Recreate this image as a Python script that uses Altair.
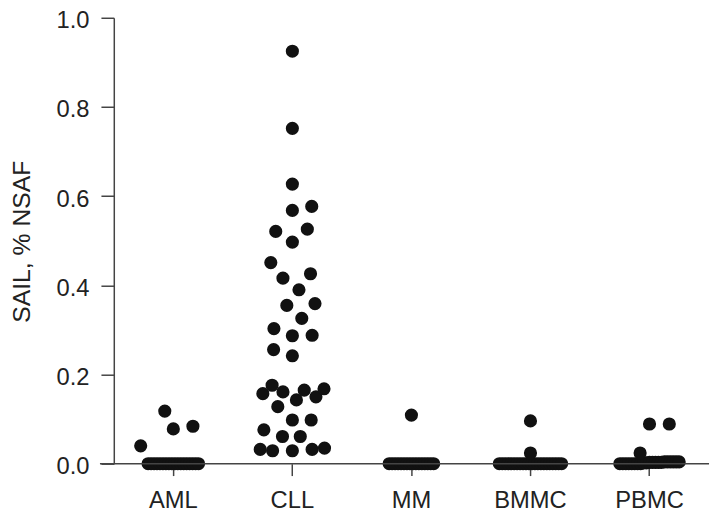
import math
import numpy as np
import pandas as pd
import altair as alt

# ---------------- data ----------------
groups = ["AML", "CLL", "MM", "BMMC", "PBMC"]

aml = [0.0] * 18 + [0.040, 0.078, 0.084, 0.118]
cll = [0.029, 0.029, 0.032, 0.032, 0.035, 0.061, 0.061, 0.076, 0.098, 0.098,
       0.128, 0.143, 0.150, 0.157, 0.161, 0.165, 0.168, 0.176, 0.242, 0.256,
       0.287, 0.288, 0.303, 0.326, 0.355, 0.359, 0.390, 0.416, 0.426, 0.451,
       0.497, 0.521, 0.526, 0.568, 0.577, 0.627, 0.752, 0.925]
mm = [0.0] * 16 + [0.109]
bmmc = [0.0] * 22 + [0.024, 0.096]
pbmc = [0.0] * 8 + [0.002, 0.002, 0.003, 0.003, 0.003, 0.003, 0.003, 0.004,
                    0.004, 0.004, 0.004, 0.004, 0.004] + [0.024, 0.089, 0.089]

values_by_group = [aml, cll, mm, bmmc, pbmc]

# ---------------- layout constants ----------------
W, H = 602, 451          # plot area in px
BW = W / len(groups)     # band width
GAP = 20.0               # preferred centre distance in the swarm (px)
CAP = 33.0               # max half-width of a column (px)
TIE_TOL = 0.006          # values this close form a dense row
TIE_MIN = 6
TIE_STEP = 3.0           # overlap step inside a dense row (px)


def swarm(vals):
    """Column-scatter layout: dense rows are overlapped, the rest is a greedy beeswarm."""
    n = len(vals)
    order = sorted(range(n), key=lambda i: vals[i])
    xs = [0.0] * n
    placed, used = [], set()
    i = 0
    while i < n:
        j = i
        while j + 1 < n and vals[order[j + 1]] - vals[order[i]] <= TIE_TOL:
            j += 1
        k = j - i + 1
        if k >= TIE_MIN:
            for r, idx in enumerate(order[i:j + 1]):
                x = (r - (k - 1) / 2) * TIE_STEP
                xs[idx] = x
                placed.append((x, vals[idx] * H))
                used.add(idx)
        i = j + 1
    flip = 1
    for idx in order:
        if idx in used:
            continue
        y = vals[idx] * H
        near = [(px, py) for px, py in placed if abs(py - y) < GAP]

        def ok(c):
            return all((c - px) ** 2 + (py - y) ** 2 >= GAP ** 2 - 1e-6 for px, py in near)

        cands = [0.0]
        for px, py in near:
            dx = math.sqrt(GAP ** 2 - (py - y) ** 2)
            cands += [px + dx, px - dx]
        valid = [c for c in cands if abs(c) <= CAP + 1e-9 and ok(c)]
        if valid:
            x = min(valid, key=lambda c: (round(abs(c), 1), -flip * c))
        else:
            grid = np.linspace(-CAP, CAP, 133)

            def mind(c):
                return min(math.hypot(c - px, py - y) for px, py in near)

            x = max(grid, key=lambda c: (round(mind(c)), -abs(c)))
        flip = -flip
        xs[idx] = float(x)
        placed.append((float(x), y))
    return xs


rows = []
for g, vals in zip(groups, values_by_group):
    offs = swarm(vals)
    for v, o in zip(vals, offs):
        rows.append({"group": g, "value": v, "off": o})
df = pd.DataFrame(rows)

FONT = "Liberation Sans"
TXT = "#222222"
LINE = "#444444"

points = alt.Chart(df).mark_circle(size=177, color="#111111", opacity=1).encode(
    x=alt.X("group:N", sort=groups,
            scale=alt.Scale(paddingInner=0, paddingOuter=0),
            axis=alt.Axis(title=None, labelAngle=0, domain=False, tickSize=12,
                          labelPadding=13, labelFontSize=24, labelFont=FONT,
                          labelColor=TXT, tickColor=LINE, tickWidth=1.5)),
    xOffset=alt.XOffset("off:Q", scale=alt.Scale(domain=[-BW / 2, BW / 2], nice=False, zero=False)),
    y=alt.Y("value:Q", scale=alt.Scale(domain=[0, 1], nice=False),
            axis=alt.Axis(values=[0, 0.2, 0.4, 0.6, 0.8, 1.0], format=".1f", grid=False,
                          tickSize=13, labelPadding=12, labelFontSize=24, labelFont=FONT,
                          labelColor=TXT, labelOffset=3, title="SAIL, % NSAF", titleFontSize=25,
                          titleFont=FONT, titleFontWeight="normal", titleColor=TXT,
                          titleX=-93, titleY=226, titleBaseline="middle",
                          domainColor=LINE, domainWidth=1.5, tickColor=LINE, tickWidth=1.5)),
)

xline = alt.Chart(pd.DataFrame({"a": [0]})).mark_rule(color=LINE, strokeWidth=1.5).encode(
    x=alt.value(-14), x2=alt.value(W), y=alt.value(H)
)

chart = alt.layer(points, xline).properties(
    width=W, height=H,
    autosize=alt.AutoSizeParams(type="none"),
    padding={"left": 107, "top": 7, "right": 3, "bottom": 50},
).configure_view(stroke=None)

chart.save("out.html", embed_options={"renderer": "svg", "actions": False})
